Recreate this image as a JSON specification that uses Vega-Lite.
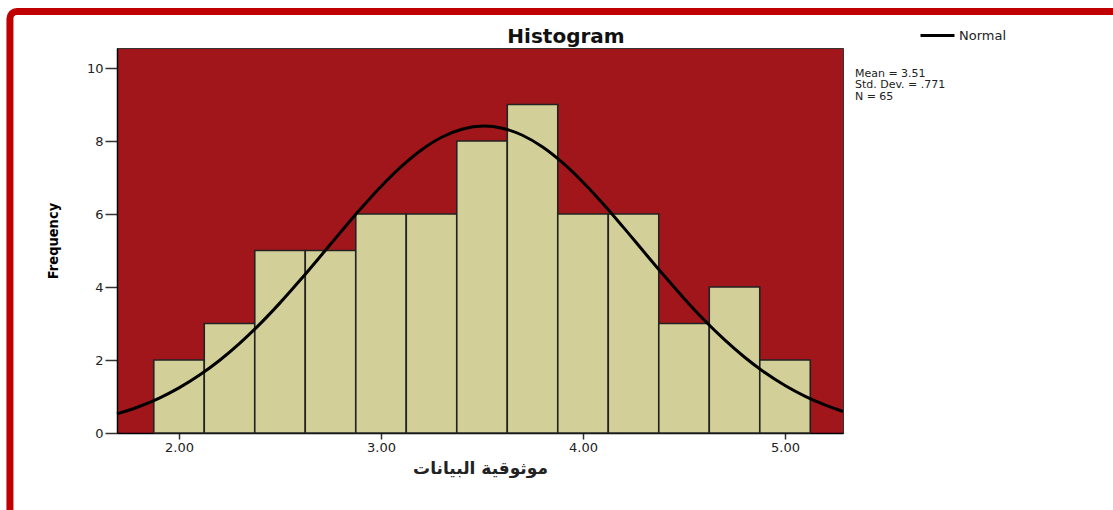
{
  "$schema": "https://vega.github.io/schema/vega-lite/v6.json",
  "width": 726,
  "height": 385,
  "autosize": {"type": "none"},
  "padding": {"left": 117, "top": 48, "right": 270, "bottom": 77},
  "background": "white",
  "config": {
    "view": {"fill": "#a1161b", "stroke": "#333333", "strokeWidth": 1},
    "font": "DejaVu Sans"
  },
  "title": {
    "text": "Histogram",
    "frame": "group",
    "anchor": "middle",
    "dx": 86,
    "offset": -55,
    "baseline": "alphabetic",
    "font": "DejaVu Sans",
    "fontSize": 20,
    "fontWeight": "bold",
    "color": "#111111"
  },
  "datasets": {
    "bars": [
      {"bin_start": 1.875, "bin_end": 2.125, "count": 2},
      {"bin_start": 2.125, "bin_end": 2.375, "count": 3},
      {"bin_start": 2.375, "bin_end": 2.625, "count": 5},
      {"bin_start": 2.625, "bin_end": 2.875, "count": 5},
      {"bin_start": 2.875, "bin_end": 3.125, "count": 6},
      {"bin_start": 3.125, "bin_end": 3.375, "count": 6},
      {"bin_start": 3.375, "bin_end": 3.625, "count": 8},
      {"bin_start": 3.625, "bin_end": 3.875, "count": 9},
      {"bin_start": 3.875, "bin_end": 4.125, "count": 6},
      {"bin_start": 4.125, "bin_end": 4.375, "count": 6},
      {"bin_start": 4.375, "bin_end": 4.625, "count": 3},
      {"bin_start": 4.625, "bin_end": 4.875, "count": 4},
      {"bin_start": 4.875, "bin_end": 5.125, "count": 2}
    ],
    "curve": [
      {"x": 1.693, "y": 0.523, "series": "Normal"},
      {"x": 1.8, "y": 0.719, "series": "Normal"},
      {"x": 1.9, "y": 0.951, "series": "Normal"},
      {"x": 2.0, "y": 1.236, "series": "Normal"},
      {"x": 2.1, "y": 1.58, "series": "Normal"},
      {"x": 2.2, "y": 1.986, "series": "Normal"},
      {"x": 2.3, "y": 2.455, "series": "Normal"},
      {"x": 2.4, "y": 2.983, "series": "Normal"},
      {"x": 2.5, "y": 3.566, "series": "Normal"},
      {"x": 2.6, "y": 4.191, "series": "Normal"},
      {"x": 2.7, "y": 4.843, "series": "Normal"},
      {"x": 2.8, "y": 5.504, "series": "Normal"},
      {"x": 2.9, "y": 6.15, "series": "Normal"},
      {"x": 3.0, "y": 6.757, "series": "Normal"},
      {"x": 3.1, "y": 7.301, "series": "Normal"},
      {"x": 3.2, "y": 7.757, "series": "Normal"},
      {"x": 3.3, "y": 8.104, "series": "Normal"},
      {"x": 3.4, "y": 8.325, "series": "Normal"},
      {"x": 3.51, "y": 8.41, "series": "Normal"},
      {"x": 3.6, "y": 8.353, "series": "Normal"},
      {"x": 3.7, "y": 8.159, "series": "Normal"},
      {"x": 3.8, "y": 7.836, "series": "Normal"},
      {"x": 3.9, "y": 7.4, "series": "Normal"},
      {"x": 4.0, "y": 6.872, "series": "Normal"},
      {"x": 4.1, "y": 6.275, "series": "Normal"},
      {"x": 4.2, "y": 5.635, "series": "Normal"},
      {"x": 4.3, "y": 4.975, "series": "Normal"},
      {"x": 4.4, "y": 4.32, "series": "Normal"},
      {"x": 4.5, "y": 3.688, "series": "Normal"},
      {"x": 4.6, "y": 3.096, "series": "Normal"},
      {"x": 4.7, "y": 2.556, "series": "Normal"},
      {"x": 4.8, "y": 2.075, "series": "Normal"},
      {"x": 4.9, "y": 1.656, "series": "Normal"},
      {"x": 5.0, "y": 1.3, "series": "Normal"},
      {"x": 5.1, "y": 1.003, "series": "Normal"},
      {"x": 5.2, "y": 0.761, "series": "Normal"},
      {"x": 5.287, "y": 0.59, "series": "Normal"}
    ]
  },
  "layer": [
    {
      "data": {"values": [{}]},
      "mark": {"type": "rect", "fill": "transparent", "stroke": "#c00000", "strokeWidth": 7, "cornerRadiusTopLeft": 7},
      "encoding": {
        "x": {"datum": 1.163, "type": "quantitative", "scale": {"domain": [1.693, 5.287], "nice": false, "zero": false}},
        "x2": {"datum": 9},
        "y": {"datum": 11.55, "type": "quantitative", "scale": {"domain": [0, 10.55], "nice": false, "zero": false}},
        "y2": {"datum": -3.0}
      }
    },
    {
      "data": {"name": "bars"},
      "mark": {"type": "rect", "fill": "#d3cf98", "stroke": "#222222", "strokeWidth": 1.6},
      "encoding": {
        "x": {
          "field": "bin_start", "type": "quantitative",
          "scale": {"domain": [1.693, 5.287], "nice": false, "zero": false},
          "axis": {
            "values": [2, 3, 4, 5], "format": ".2f", "grid": false,
            "tickSize": 6, "tickColor": "#333333", "tickWidth": 1.5,
            "domainColor": "#000000", "domainWidth": 1.5,
            "labelFont": "DejaVu Sans", "labelFontSize": 13, "labelColor": "#222222", "labelPadding": 2,
            "title": "موثوقية البيانات", "titleFont": "DejaVu Sans", "titleFontSize": 17, "titleFontWeight": "bold",
            "titleColor": "#222222", "titlePadding": 6
          }
        },
        "x2": {"field": "bin_end"},
        "y": {
          "field": "count", "type": "quantitative",
          "scale": {"domain": [0, 10.55], "nice": false, "zero": false},
          "axis": {
            "values": [0, 2, 4, 6, 8, 10], "grid": false,
            "tickSize": 12, "tickColor": "#333333", "tickWidth": 1.5,
            "domainColor": "#000000", "domainWidth": 1.5,
            "labelFont": "DejaVu Sans", "labelFontSize": 13, "labelColor": "#222222", "labelPadding": 2,
            "title": "Frequency", "titleFont": "DejaVu Sans Condensed, DejaVu Sans, sans-serif",
            "titleFontSize": 14.5, "titleFontWeight": "bold", "titleColor": "#000000", "titlePadding": 26
          }
        },
        "y2": {"datum": 0}
      }
    },
    {
      "data": {"name": "curve"},
      "mark": {"type": "line", "strokeWidth": 3, "interpolate": "monotone"},
      "encoding": {
        "x": {"field": "x", "type": "quantitative"},
        "y": {"field": "y", "type": "quantitative"},
        "color": {
          "field": "series", "type": "nominal",
          "scale": {"range": ["#000000"]},
          "legend": {
            "title": null, "orient": "none", "legendX": 802, "legendY": -31,
            "symbolType": "stroke", "symbolSize": 1156, "symbolStrokeWidth": 3,
            "labelFont": "DejaVu Sans", "labelFontSize": 13, "labelColor": "#222222", "labelOffset": 3, "padding": 0
          }
        }
      }
    },
    {
      "data": {"values": [{}]},
      "mark": {"type": "text", "align": "left", "baseline": "alphabetic", "font": "DejaVu Sans", "fontSize": 11, "lineHeight": 11.5, "color": "#222222"},
      "encoding": {
        "x": {"datum": 5.346, "type": "quantitative"},
        "y": {"datum": 9.76, "type": "quantitative"},
        "text": {"value": ["Mean = 3.51", "Std. Dev. = .771", "N = 65"]}
      }
    }
  ]
}
